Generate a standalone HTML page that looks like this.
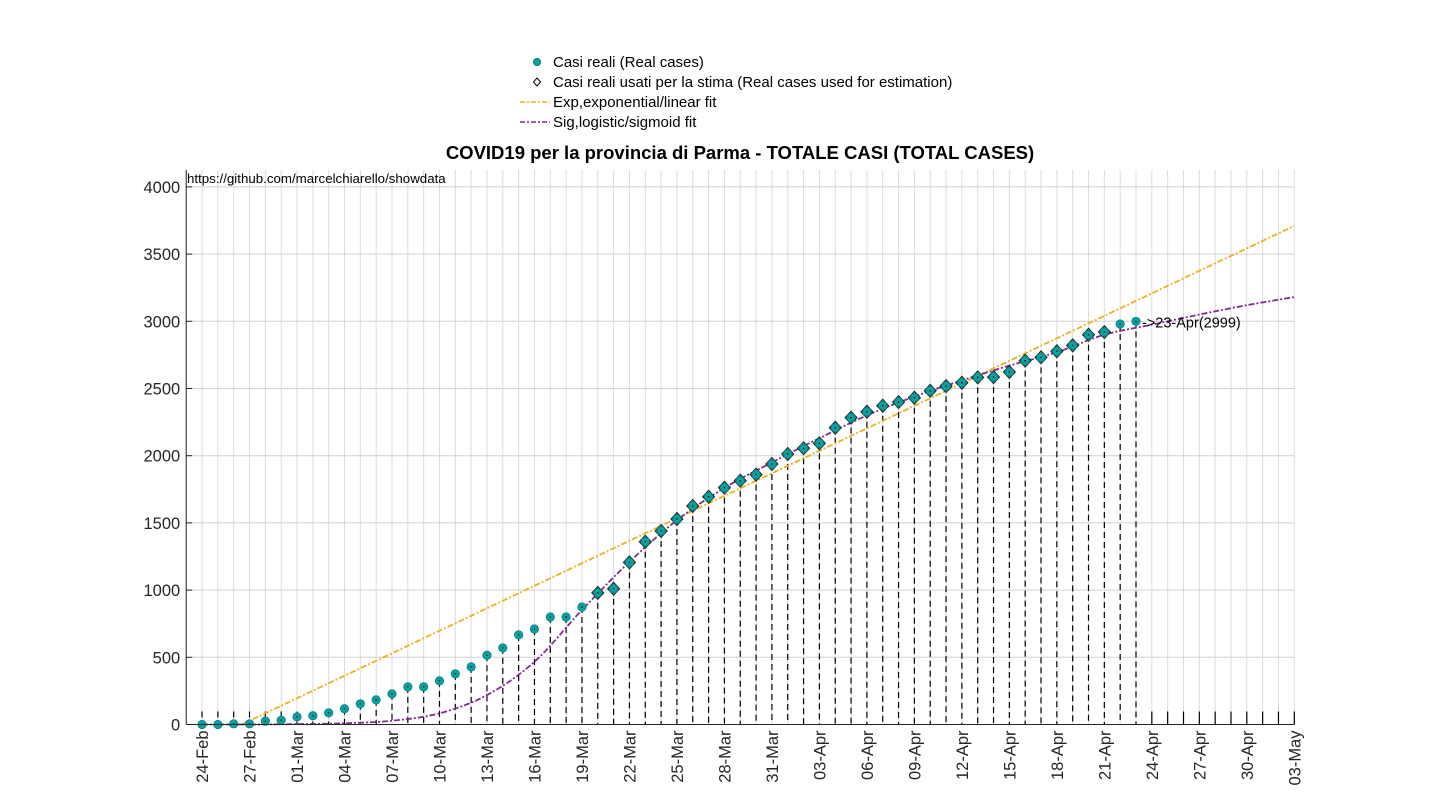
<!DOCTYPE html>
<html><head><meta charset="utf-8"><style>
body{margin:0;background:#fff;width:1430px;height:800px;overflow:hidden;font-family:"Liberation Sans",Arial,sans-serif}
svg text{font-family:"Liberation Sans",Arial,sans-serif}
</style></head><body>
<svg id="chart" width="1430" height="800" xmlns="http://www.w3.org/2000/svg">
<g id="grid"></g>
<g id="stems"></g>
<g id="fits"></g>
<g id="marks"></g>
<g id="axes"></g>
<text x="740" y="159" text-anchor="middle" font-size="18.5" font-weight="bold" fill="#000">COVID19 per la provincia di Parma - TOTALE CASI (TOTAL CASES)</text>
<text x="187" y="183" font-size="13.3" fill="#000">https://github.com/marcelchiarello/showdata</text>
<g font-size="15" fill="#000">
 <circle cx="537" cy="62" r="3.5" fill="#0aa0a0" stroke="#077"/>
 <text x="553" y="67">Casi reali (Real cases)</text>
 <path d="M537 78 L540.5 82 L537 86 L533.5 82 Z" fill="none" stroke="#000"/>
 <text x="553" y="87">Casi reali usati per la stima (Real cases used for estimation)</text>
 <line x1="520" y1="102" x2="550" y2="102" stroke="#edb120" stroke-width="1.5" stroke-dasharray="5,2,2,2"/>
 <text x="553" y="107">Exp,exponential/linear fit</text>
 <line x1="520" y1="122" x2="550" y2="122" stroke="#7e2f8e" stroke-width="1.5" stroke-dasharray="5,2,2,2"/>
 <text x="553" y="127">Sig,logistic/sigmoid fit</text>
</g>
</svg>
<script>
// Data (day index 0 = 24-Feb-2020)
const cases = [0,0,5,5,25,32,57,65,87,117,154,183,228,280,280,325,377,429,515,570,667,711,800,800,874,979,1010,1206,1360,1440,1529,1626,1695,1762,1814,1859,1938,2013,2055,2092,2208,2283,2327,2372,2399,2431,2483,2518,2543,2583,2585,2623,2707,2732,2777,2821,2900,2920,2980,2999];
const usedStart = [25];
const usedEnd = [57];
const sigDays = [0,3,6,9,12,15,18,21,24,27,30,33,36,39,42,45,48,51,54,57,60,63,66,69];
const sigVals = [0,0,3,9,28,83,219,467,852,1210,1520,1760,1950,2130,2300,2440,2560,2670,2770,2900,2975,3050,3120,3180];
const linDays = [2.5,69];
const linVals = [0,3710];
const yTicks = [0,500,1000,1500,2000,2500,3000,3500,4000];
const xTickLabels = ["24-Feb","27-Feb","01-Mar","04-Mar","07-Mar","10-Mar","13-Mar","16-Mar","19-Mar","22-Mar","25-Mar","28-Mar","31-Mar","03-Apr","06-Apr","09-Apr","12-Apr","15-Apr","18-Apr","21-Apr","24-Apr","27-Apr","30-Apr","03-May"];
const lastLabel = ["->23-Apr(2999)"];

const NS="http://www.w3.org/2000/svg";
const X0=186.2, DX=15.83, Y0=724.5, YS=67.2/500, TOP=170;
const xs=d=>X0+(d+1)*DX, ys=v=>Y0-v*YS;
function mk(tag,attrs,parent){const e=document.createElementNS(NS,tag);for(const k in attrs)e.setAttribute(k,attrs[k]);parent.appendChild(e);return e;}
const grid=document.getElementById('grid'),stems=document.getElementById('stems'),fits=document.getElementById('fits'),marks=document.getElementById('marks'),axes=document.getElementById('axes');
const RIGHT=xs(69);
for(let d=-1;d<=69;d++){const l=mk('line',{x1:xs(d),x2:xs(d),y1:TOP,y2:Y0,stroke:'#dcdcdc','stroke-width':1},grid);

}
yTicks.forEach(v=>{const l=mk('line',{x1:X0,x2:RIGHT,y1:ys(v),y2:ys(v),stroke:'#d0d0d0','stroke-width':1},grid);


const t=mk('line',{x1:X0,x2:X0+6,y1:ys(v),y2:ys(v),stroke:'#262626'},axes);


const tx=mk('text',{x:X0-6,y:ys(v)+6,'text-anchor':'end','font-size':16.5,fill:'#262626'},axes);tx.textContent=v;

});
// stems
for(let d=0;d<=69;d++){const v=d<cases.length?cases[d]:0;const top=Math.min(ys(v),Y0-13);
const s=mk('line',{x1:xs(d),x2:xs(d),y1:top,y2:Y0,stroke:'#000','stroke-width':1.2,'stroke-dasharray':d<cases.length?'6,4':'none'},stems);

}
// fits
let lp='M'+xs(linDays[0])+' '+ys(linVals[0])+' L'+xs(linDays[1])+' '+ys(linVals[1]);
const lf=mk('path',{d:lp,fill:'none',stroke:'#edb120','stroke-width':1.8,'stroke-dasharray':'6,2,2,2'},fits);


const P=sigDays.map((d,i)=>[xs(d),ys(sigVals[i])]);
let sp='M'+P[0][0]+' '+P[0][1];
for(let i=0;i<P.length-1;i++){const p0=P[Math.max(0,i-1)],p1=P[i],p2=P[i+1],p3=P[Math.min(P.length-1,i+2)];
sp+=' C'+(p1[0]+(p2[0]-p0[0])/6)+' '+(p1[1]+(p2[1]-p0[1])/6)+' '+(p2[0]-(p3[0]-p1[0])/6)+' '+(p2[1]-(p3[1]-p1[1])/6)+' '+p2[0]+' '+p2[1];}
const sf=mk('path',{d:sp,fill:'none',stroke:'#7e2f8e','stroke-width':1.8,'stroke-dasharray':'6,2,2,2'},fits);


// markers
cases.forEach((v,d)=>{const x=xs(d),y=ys(v);
if(d>=usedStart[0]&&d<=usedEnd[0]){const m=mk('path',{d:`M${x} ${y-6.5} L${x+6} ${y} L${x} ${y+6.5} L${x-6} ${y} Z`,fill:'#0aa0a0',stroke:'#222','stroke-width':1},marks);

}
const c=mk('circle',{cx:x,cy:y,r:4.2,fill:'#0aa0a0',stroke:'#088','stroke-width':0.8},marks);


const dot=mk('circle',{cx:x,cy:y,r:0.8,fill:'#000'},marks);

});
const li=cases.length-1;
const lt=mk('text',{x:xs(li)+6,y:ys(cases[li])+6,'font-size':14.5,fill:'#000'},marks);lt.textContent=lastLabel[0];


// axes
const ya=mk('line',{x1:X0,x2:X0,y1:TOP,y2:Y0,stroke:'#262626'},axes);


const xa=mk('line',{x1:X0,x2:RIGHT,y1:Y0,y2:Y0,stroke:'#262626'},axes);


xTickLabels.forEach((lab,i)=>{const x=xs(i*3);
const t=mk('text',{transform:`translate(${x+6},${Y0+6}) rotate(-90)`,'text-anchor':'end','font-size':16.5,fill:'#262626'},axes);t.textContent=lab;

});
</script>
</body></html>
